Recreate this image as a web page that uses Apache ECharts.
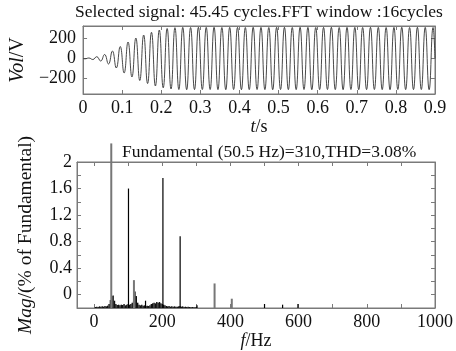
<!DOCTYPE html>
<html>
<head>
<meta charset="utf-8">
<script src="https://cdn.jsdelivr.net/npm/echarts@6/dist/echarts.min.js"></script>
<style>html,body{margin:0;padding:0;background:#fff}#c{width:456px;height:351px}</style>
</head>
<body>
<div id="c"></div>
<script>
// ---- Top panel: voltage waveform (extrema) ----
const waveT = [0,0.005,0.015,0.025,0.035,0.045,0.055,0.065,0.075,0.085,0.095,
  0.105,0.115,0.125,0.135,0.145,0.155,0.165,0.175,0.185,0.195,
  0.205,0.215,0.225,0.235,0.245,0.255,0.265,0.275,0.285,0.295,
  0.305,0.315,0.325,0.335,0.345,0.355,0.365,0.375,0.385,0.395,
  0.405,0.415,0.425,0.435,0.445,0.455,0.465,0.475,0.485,0.495,
  0.505,0.515,0.525,0.535,0.545,0.555,0.565,0.575,0.585,0.595,
  0.605,0.615,0.625,0.635,0.645,0.655,0.665,0.675,0.685,0.695,
  0.705,0.715,0.725,0.735,0.745,0.755,0.765,0.775,0.785,0.795,
  0.805,0.815,0.825,0.835,0.845,0.855,0.865,0.875,0.885,0.895,0.9];
const waveV = [0,-3,5,-10,18,-25,40,-55,75,-95,120,
  -145,165,-185,205,-220,235,-250,262,-275,285,
  -293,300,-305,308,-310,311,-312,310,-311,312,
  -310,311,-310,312,-311,310,-312,311,-310,311,
  -312,310,-311,312,-310,311,-311,310,-312,311,
  -310,312,-311,310,-311,312,-310,311,-312,310,
  -311,311,-310,312,-311,310,-312,311,-310,311,
  -312,310,-311,312,-310,311,-311,310,-312,311,
  -310,312,-311,310,-311,312,-310,311,-312,310,0];
const timeTicks = [0,0.1,0.2,0.3,0.4,0.5,0.6,0.7,0.8,0.9];
const voltLabels = [-200,0,200];

// ---- Bottom panel: spectrum (% of fundamental) ----
const blackFreq = [101,202,252.5,151,302,500,553,598];
const blackMag  = [1.6,1.76,0.88,-0.09,-0.16,-0.14,-0.15,-0.14];
const grayFreq  = [50.5,117,353.5,404];
const grayMag   = [2.28,0.22,0.17,-0.06];
const noiseFreq = [4,8,12,16,20,24,28,32,36,40,44,48,52,56,60,64,68,72,76,80,
  84,88,92,96,100,104,108,112,116,120,124,128,132,136,140,144,148,152,156,160,
  164,168,172,176,180,184,188,192,196,200,204,208,212,216,220,224,228,232,236,240,
  244,248,252,256,260,264,268,272,276,280,284,288,292,296,300];
const noiseMag = [-0.185,-0.18,-0.185,-0.175,-0.18,-0.175,-0.18,-0.17,-0.175,-0.165,
  -0.14,-0.08,-0.02,-0.01,-0.09,-0.14,-0.155,-0.15,-0.16,-0.15,
  -0.155,-0.14,-0.16,-0.15,-0.14,-0.15,-0.14,-0.12,-0.1,0.05,
  -0.02,-0.12,-0.15,-0.16,-0.15,-0.165,-0.16,-0.17,-0.165,-0.17,
  -0.16,-0.14,-0.13,-0.12,-0.13,-0.11,-0.12,-0.11,-0.13,-0.14,
  -0.15,-0.16,-0.17,-0.175,-0.17,-0.18,-0.175,-0.18,-0.175,-0.18,
  -0.18,-0.175,-0.17,-0.18,-0.175,-0.185,-0.18,-0.185,-0.18,-0.185,
  -0.19,-0.185,-0.19,-0.19,-0.185];
const freqLabels = [0,200,400,600,800,1000];
const freqTicks = [0,100,200,300,400,500,600,700,800,900,1000];
const magLabels = [0,0.4,0.8,1.2,1.6,2];
const magTicks = [0,0.2,0.4,0.6,0.8,1,1.2,1.4,1.6,1.8,2];

const FONT = 'Liberation Serif';
const MAG_MIN = -0.2;
const BOX = '#7a7a7a';

function zip(a, b) { return a.map((v, i) => [v, b[i]]); }

function stems(width) {
  return function (params, api) {
    const f = api.value(0), m = api.value(1);
    const p0 = api.coord([f, MAG_MIN]);
    const p1 = api.coord([f, m]);
    return { type: 'line', shape: { x1: p0[0], y1: p0[1], x2: p1[0], y2: p1[1] },
      style: { stroke: api.visual('color'), lineWidth: width } };
  };
}

const labelStyle = { fontFamily: FONT, fontSize: 18, color: '#111' };
function nameStyleOf(size) {
  return { fontFamily: FONT, fontSize: size, color: '#111',
    rich: { i: { fontFamily: FONT, fontSize: size, fontStyle: 'italic', color: '#111' } } };
}
const tickIn = (vals) => ({ show: true, inside: true, length: 4, lineStyle: { color: BOX }, customValues: vals });
const axLine = { show: true, onZero: false, lineStyle: { color: BOX, width: 1 } };

const chart = echarts.init(document.getElementById('c'), null, { renderer: 'canvas' });
chart.setOption({
  animation: false,
  backgroundColor: '#fff',
  title: [
    { text: 'Selected signal: 45.45 cycles.FFT window :16cycles', left: 75, top: 3, padding: 0,
      textStyle: { fontFamily: FONT, fontSize: 17.5, fontWeight: 'normal', color: '#111' } },
    { text: 'Fundamental (50.5 Hz)=310,THD=3.08%', left: 122, top: 143, padding: 0,
      textStyle: { fontFamily: FONT, fontSize: 17.5, fontWeight: 'normal', color: '#111' } }
  ],
  grid: [
    { left: 77, right: 21, top: 26, height: 68, show: true, borderColor: BOX, borderWidth: 1 },
    { left: 77, right: 21, top: 162, height: 146, show: true, borderColor: BOX, borderWidth: 1 }
  ],
  xAxis: [
    { gridIndex: 0, type: 'value', min: 0, max: 0.9, axisLine: axLine,
      axisTick: tickIn(timeTicks), splitLine: { show: false },
      axisLabel: Object.assign({ customValues: timeTicks, margin: 5,
        formatter: v => v === 0 ? '0' : v.toFixed(1) }, labelStyle),
      name: '{i|t}/s', nameLocation: 'middle', nameGap: 19, nameTextStyle: nameStyleOf(18) },
    { gridIndex: 0, type: 'value', position: 'top', min: 0, max: 0.9, axisLine: axLine,
      axisTick: tickIn(timeTicks), axisLabel: { show: false }, splitLine: { show: false } },
    { gridIndex: 1, type: 'value', min: -50, max: 1000, axisLine: axLine,
      axisTick: tickIn(freqTicks), splitLine: { show: false },
      axisLabel: Object.assign({ customValues: freqLabels, margin: 5,
        formatter: v => String(v) }, labelStyle),
      name: '{i|f}/Hz', nameLocation: 'middle', nameGap: 22, nameTextStyle: nameStyleOf(18) },
    { gridIndex: 1, type: 'value', position: 'top', min: -50, max: 1000, axisLine: axLine,
      axisTick: tickIn(freqTicks), axisLabel: { show: false }, splitLine: { show: false } }
  ],
  yAxis: [
    { gridIndex: 0, type: 'value', min: -355, max: 325, axisLine: axLine,
      axisTick: tickIn(voltLabels), splitLine: { show: false },
      axisLabel: Object.assign({ customValues: voltLabels, margin: 7,
        formatter: v => v < 0 ? '\u2212' + Math.abs(v) : String(v) }, labelStyle),
      name: '{i|Vol}/V', nameLocation: 'middle', nameGap: 36, nameTextStyle: nameStyleOf(20) },
    { gridIndex: 0, type: 'value', position: 'right', min: -355, max: 325, axisLine: axLine,
      axisTick: tickIn(voltLabels), axisLabel: { show: false }, splitLine: { show: false } },
    { gridIndex: 1, type: 'value', min: -0.2, max: 2, axisLine: axLine,
      axisTick: tickIn(magTicks), splitLine: { show: false },
      axisLabel: Object.assign({ customValues: magLabels, margin: 5,
        formatter: v => String(v) }, labelStyle),
      name: '{i|Mag}/(% of Fundamental)', nameLocation: 'middle', nameGap: 41,
      nameTextStyle: nameStyleOf(19.5) },
    { gridIndex: 1, type: 'value', position: 'right', min: -0.2, max: 2, axisLine: axLine,
      axisTick: tickIn(magTicks), axisLabel: { show: false }, splitLine: { show: false } }
  ],
  series: [
    { type: 'line', xAxisIndex: 0, yAxisIndex: 0, data: zip(waveT, waveV), smooth: 0.5,
      showSymbol: false, lineStyle: { color: '#333', width: 0.9 }, silent: true },
    { type: 'custom', xAxisIndex: 2, yAxisIndex: 2, data: zip(noiseFreq, noiseMag),
      renderItem: stems(1.4), itemStyle: { color: '#111' }, silent: true },
    { type: 'custom', xAxisIndex: 2, yAxisIndex: 2, data: zip(blackFreq, blackMag),
      renderItem: stems(1.2), itemStyle: { color: '#000' }, silent: true },
    { type: 'custom', xAxisIndex: 2, yAxisIndex: 2, data: zip(grayFreq, grayMag),
      renderItem: stems(2), itemStyle: { color: '#777' }, silent: true }
  ]
});
</script>
</body>
</html>
